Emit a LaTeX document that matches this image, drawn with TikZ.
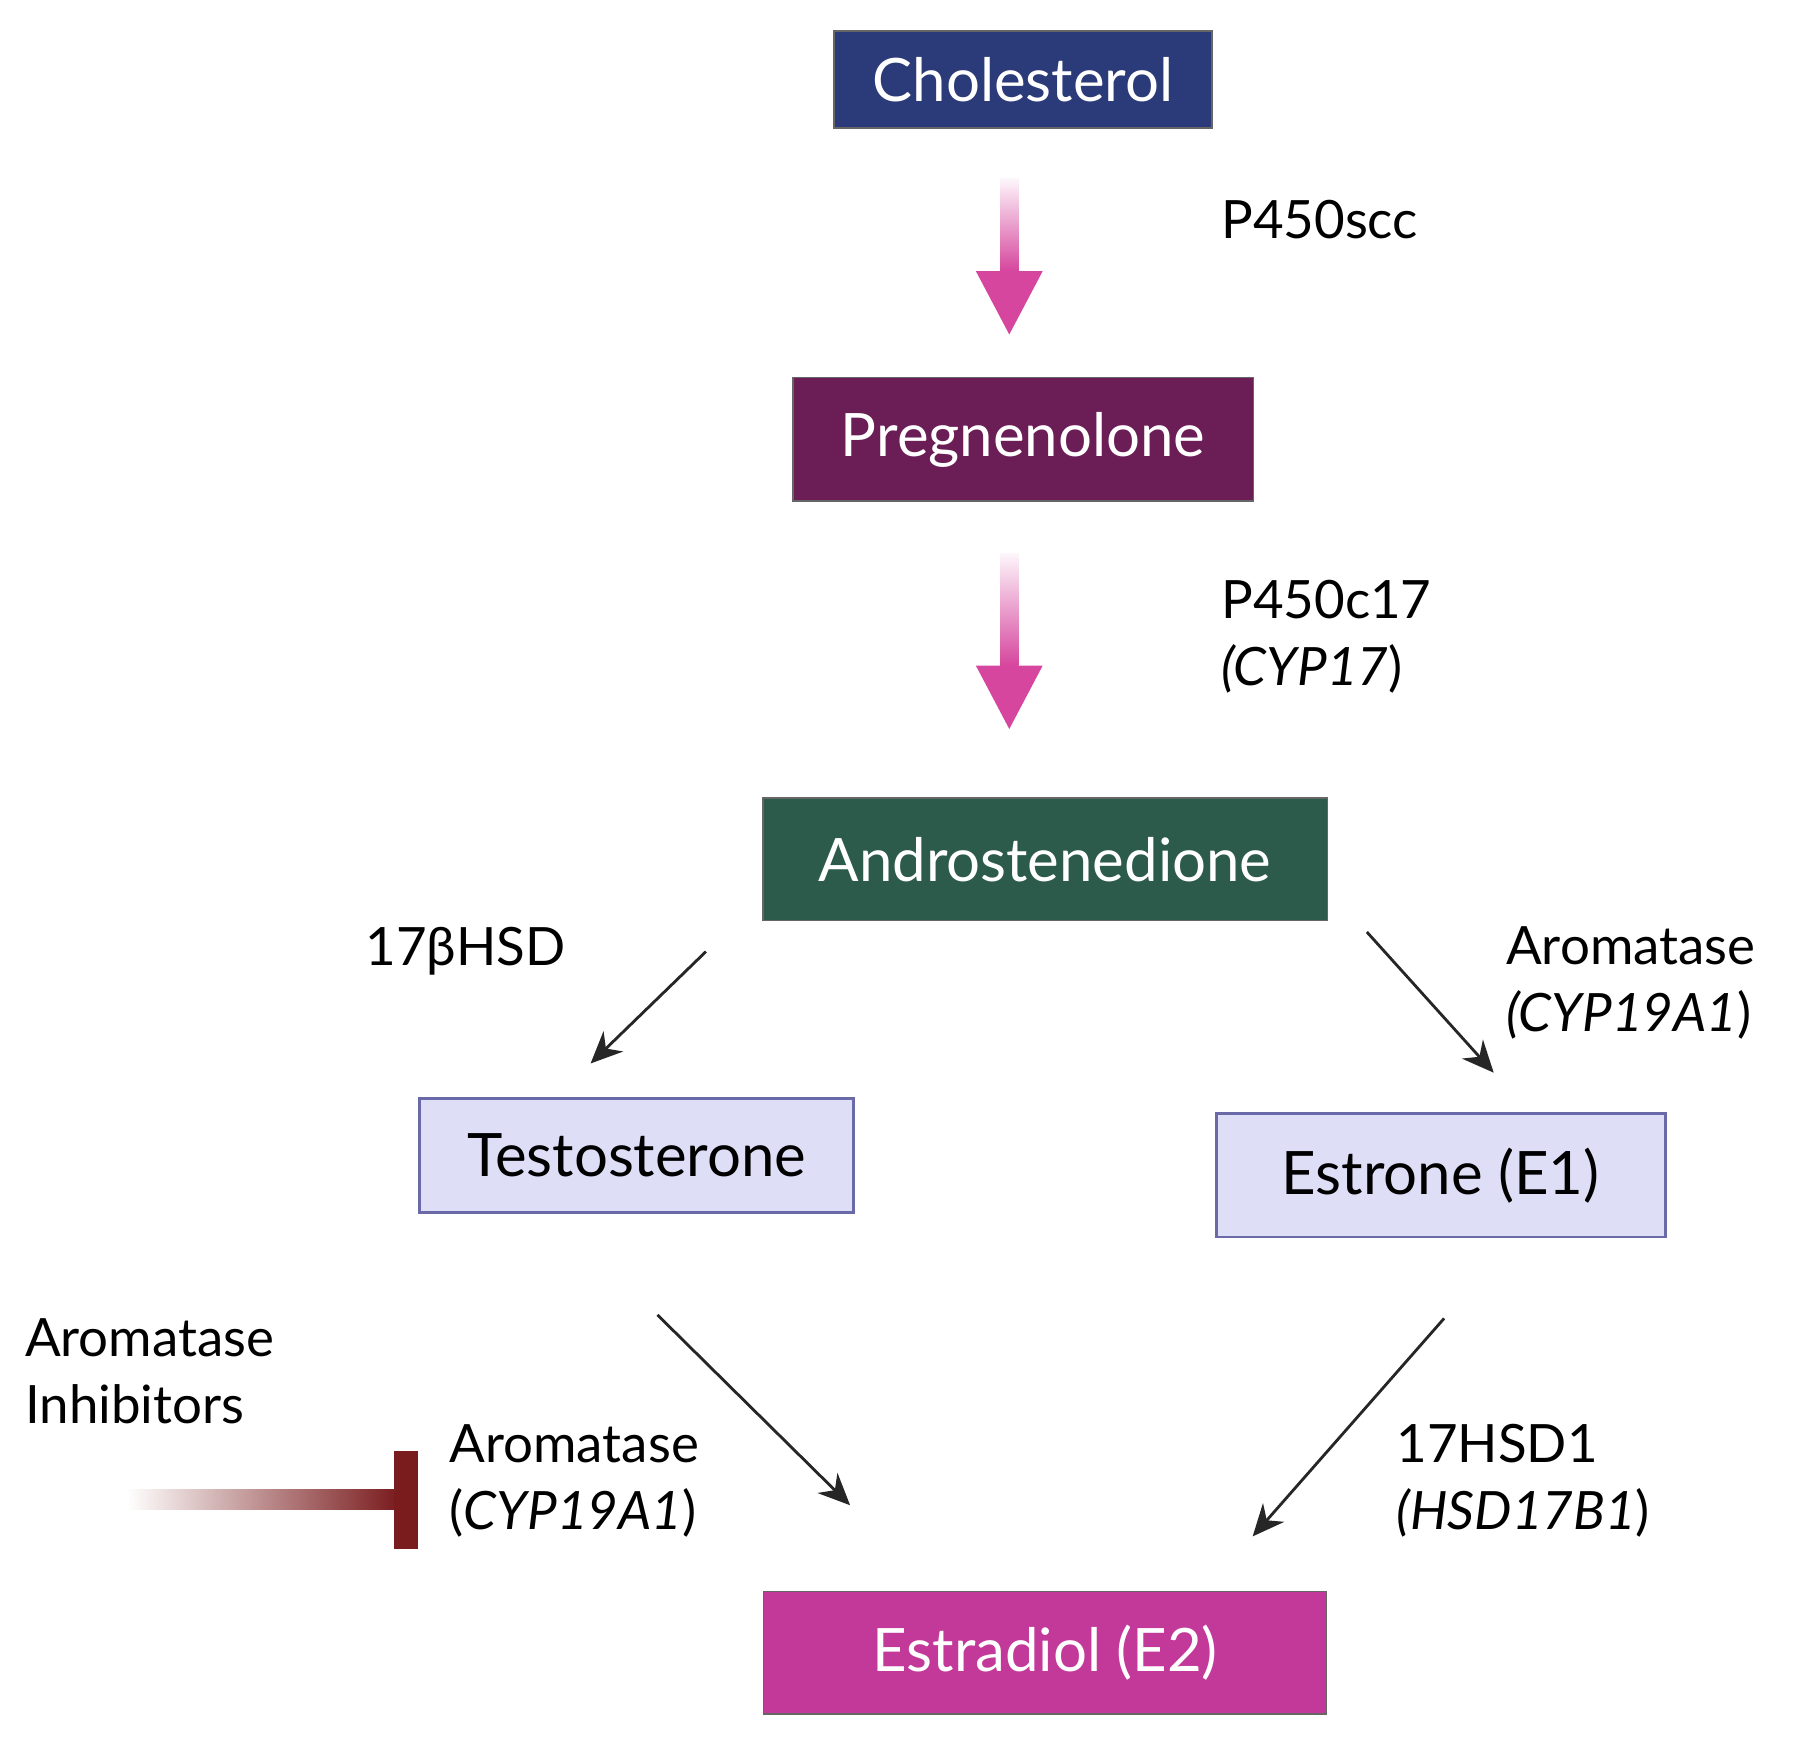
\documentclass[tikz,border=0pt]{standalone}
\usepackage{fontspec}
\setmainfont{Lato}
\usetikzlibrary{arrows.meta,positioning}
\definecolor{cholc}{HTML}{2B3A78}
\definecolor{pregc}{HTML}{6B1D55}
\definecolor{andrc}{HTML}{2D5B4B}
\definecolor{lavc}{HTML}{DEDEF7}
\definecolor{lavd}{HTML}{6A6AA8}
\definecolor{estrc}{HTML}{C2399A}
\definecolor{pinkc}{HTML}{D6469E}
\definecolor{inhc}{HTML}{7A1C1E}
\tikzset{
  dark/.style={draw=black!60, text=white, minimum height=1.0cm, inner sep=0pt, font=\fontsize{17}{19}\selectfont},
  light/.style={draw=lavd, fill=lavc, thick, minimum height=1.0cm, inner sep=0pt, font=\fontsize{17}{19}\selectfont},
  lbl/.style={anchor=west, align=left, font=\fontsize{15}{19}\selectfont},
  conv/.style={-{Stealth[length=9pt,width=8pt]}, thick, black!85},
}
\begin{document}
\begin{tikzpicture}[x=0.0115cm,y=-0.0115cm]
  \useasboundingbox (0,0) rectangle (1564,1508);

  % Boxes
  \node[dark, fill=cholc, minimum width=3.77cm, minimum height=0.97cm] (chol) at (887,69) {Cholesterol};
  \node[dark, fill=pregc, minimum width=4.59cm, minimum height=1.23cm] (preg) at (887,381) {Pregnenolone};
  \node[dark, fill=andrc, minimum width=5.63cm, minimum height=1.22cm] (andr) at (906,745) {Androstenedione};
  \node[light, minimum width=4.33cm, minimum height=1.14cm] (test) at (552,1002) {Testosterone};
  \node[light, minimum width=4.48cm, minimum height=1.23cm] (estr) at (1249,1019) {Estrone (E1)};
  \node[dark, fill=estrc, minimum width=5.62cm, minimum height=1.22cm] (estd) at (906,1433) {Estradiol (E2)};

  % Pink conversion arrows
  \foreach \ya/\yb in {155/235, 480/577}{
    \shade[top color=pinkc!5, bottom color=pinkc] (867,\ya) rectangle (883,\yb);
    \fill[pinkc] (846,\yb) -- (904,\yb) -- (875,\yb+55) -- cycle;
  }
  \node[lbl] (scc) at (1048,190) {P450scc};
  \node[lbl] (c17) at (1048,552) {P450c17\\\textit{(CYP17})};

  % Black conversion arrows
  \coordinate (a1) at (612,825); \coordinate (b1) at (512,922);
  \coordinate (a2) at (1185,808); \coordinate (b2) at (1295,930);
  \coordinate (a3) at (570,1140); \coordinate (b3) at (737,1305);
  \coordinate (a4) at (1252,1143); \coordinate (b4) at (1086,1332);
  \draw[conv] (a1) -- (b1);
  \draw[conv] (a2) -- (b2);
  \draw[conv] (a3) -- (b3);
  \draw[conv] (a4) -- (b4);

  \node[lbl] (hsd) at (306,825) {17βHSD};
  \node[lbl] (aro1) at (1295,852) {Aromatase\\\textit{(CYP19A1})};
  \node[lbl] (aro2) at (379,1284) {Aromatase\\(\textit{CYP19A1})};
  \node[lbl] (hsd1) at (1200,1284) {17HSD1\\\textit{(HSD17B1})};
  \node[lbl] (inh) at (11,1189) {Aromatase\\Inhibitors};

  % Inhibition
  \shade[left color=white, right color=inhc] (110,1291) rectangle (345,1309);
  \fill[inhc] (342,1258) rectangle (362,1343);
\end{tikzpicture}
\end{document}
